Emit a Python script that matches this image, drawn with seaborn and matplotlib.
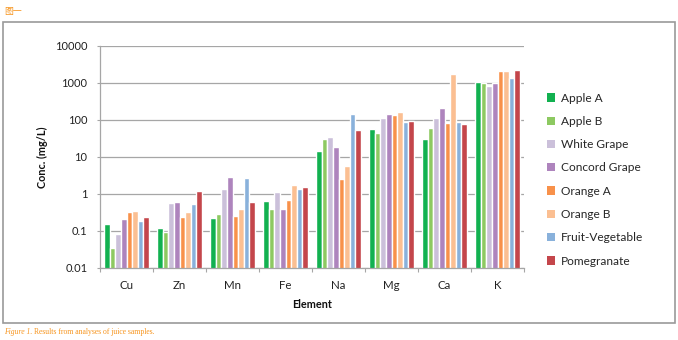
import matplotlib
matplotlib.use("Agg")
import matplotlib.pyplot as plt
import seaborn as sns
import pandas as pd
import numpy as np
from matplotlib.patches import Rectangle, Patch
from matplotlib.ticker import FixedLocator, NullFormatter

elements = ["Cu", "Zn", "Mn", "Fe", "Na", "Mg", "Ca", "K"]
series_names = ["Apple A", "Apple B", "White Grape", "Concord Grape",
                "Orange A", "Orange B", "Fruit-Vegetable", "Pomegranate"]
apple_a = [0.15, 0.122, 0.23, 0.63, 14.1, 55, 31, 1020]
apple_b = [0.034, 0.095, 0.29, 0.38, 29.8, 43, 59, 1000]
white_grape = [0.084, 0.57, 1.36, 1.1, 33.7, 110, 114, 840]
concord_grape = [0.206, 0.59, 2.86, 0.38, 18.8, 143, 208, 1000]
orange_a = [0.32, 0.24, 0.25, 0.68, 2.52, 137, 82, 2070]
orange_b = [0.345, 0.32, 0.38, 1.74, 5.56, 162, 1720, 2030]
fruit_veg = [0.18, 0.52, 2.64, 1.36, 146, 87, 87, 1320]
pomegranate = [0.233, 1.22, 0.59, 1.53, 52, 91, 76, 2200]
colors = ["#12B150", "#8DC961", "#CBC0DA", "#AE84BD",
          "#F8914A", "#FBBF92", "#89B1DB", "#C4464B"]
y_ticks = [0.01, 0.1, 1, 10, 100, 1000, 10000]
y_tick_labels = ["0.01", "0.1", "1", "10", "100", "1000", "10000"]

series_values = [apple_a, apple_b, white_grape, concord_grape,
                 orange_a, orange_b, fruit_veg, pomegranate]
rows = []
for name, vals in zip(series_names, series_values):
    for el, v in zip(elements, vals):
        rows.append({"Element": el, "Sample": name, "Conc": v})
df = pd.DataFrame(rows)

sns.set_style("white")
plt.rcParams['font.family'] = ['Lato', 'DejaVu Sans']

fig = plt.figure(figsize=(6.78, 3.4), dpi=100)
ax = fig.add_axes([100/678, 1-268/340, 424/678, (268-45.7)/340])

sns.barplot(data=df, x="Element", y="Conc", hue="Sample", order=elements,
            hue_order=series_names, palette=colors, width=0.84, gap=0,
            saturation=1, ax=ax, legend=False, errorbar=None)
ax.set_yscale("log")
ax.set_ylim(0.01, 10000)
ax.set_xlim(-0.5, len(elements) - 0.5)
ax.set_yticks(y_ticks)
ax.set_yticklabels(y_tick_labels)
ax.yaxis.set_minor_locator(FixedLocator([]))
ax.grid(axis="y", color="#A6A6A6", linewidth=0.9)
ax.set_axisbelow(True)
for s in ["top", "right"]:
    ax.spines[s].set_visible(False)
for s in ["left", "bottom"]:
    ax.spines[s].set_color("#A6A6A6")
    ax.spines[s].set_linewidth(0.9)

ax.tick_params(axis="y", which="major", length=2.5, width=0.8, color="#A6A6A6",
               pad=6.5, labelsize=8, labelcolor="#222222", left=True)
ax.tick_params(axis="x", which="major", length=0, pad=8.5, labelsize=8.3,
               labelcolor="#222222")
ax.xaxis.set_minor_locator(FixedLocator(np.arange(-0.5, len(elements), 1.0)))
ax.xaxis.set_minor_formatter(NullFormatter())
ax.tick_params(axis="x", which="minor", length=3, width=0.8, color="#A6A6A6",
               bottom=True)

ax.set_xlabel("Element", fontsize=7.8, fontweight="bold", labelpad=6, color="#111111")
ax.set_ylabel("Conc. (mg/L)", fontsize=7.8, fontweight="bold", labelpad=5, color="#111111")

handles = [Patch(facecolor=c, edgecolor="none") for c in colors]
fig.legend(handles, series_names, loc="upper left",
           bbox_to_anchor=(543/678, 1-89/340), frameon=False,
           fontsize=8.6, handlelength=0.7, handleheight=0.7, handletextpad=0.5,
           labelspacing=1.03, borderaxespad=0, borderpad=0.3)

fig.patches.append(Rectangle((3/678, 1-323/340), 672/678, (323-22)/340,
                             transform=fig.transFigure, fill=False,
                             edgecolor="#9A9A9A", linewidth=1.2))

fig.text(4/678, 1-11.5/340, "图一", color="#F7941D", fontsize=6.4,
         family=["Noto Sans CJK SC", "DejaVu Sans"], va="center", ha="left")
t1 = fig.text(4/678, 1-332/340, "Figure 1.", color="#F7941D", fontsize=5.5,
              family=["Liberation Serif"], style="italic", va="center", ha="left")
fig.canvas.draw()
bb = t1.get_window_extent()
fig.text(bb.x1/678 + 1.5/678, 1-332/340, "Results from analyses of juice samples.",
         color="#F7941D", fontsize=5.5, family=["Liberation Serif"],
         va="center", ha="left")

fig.savefig("out.png", dpi=100)
